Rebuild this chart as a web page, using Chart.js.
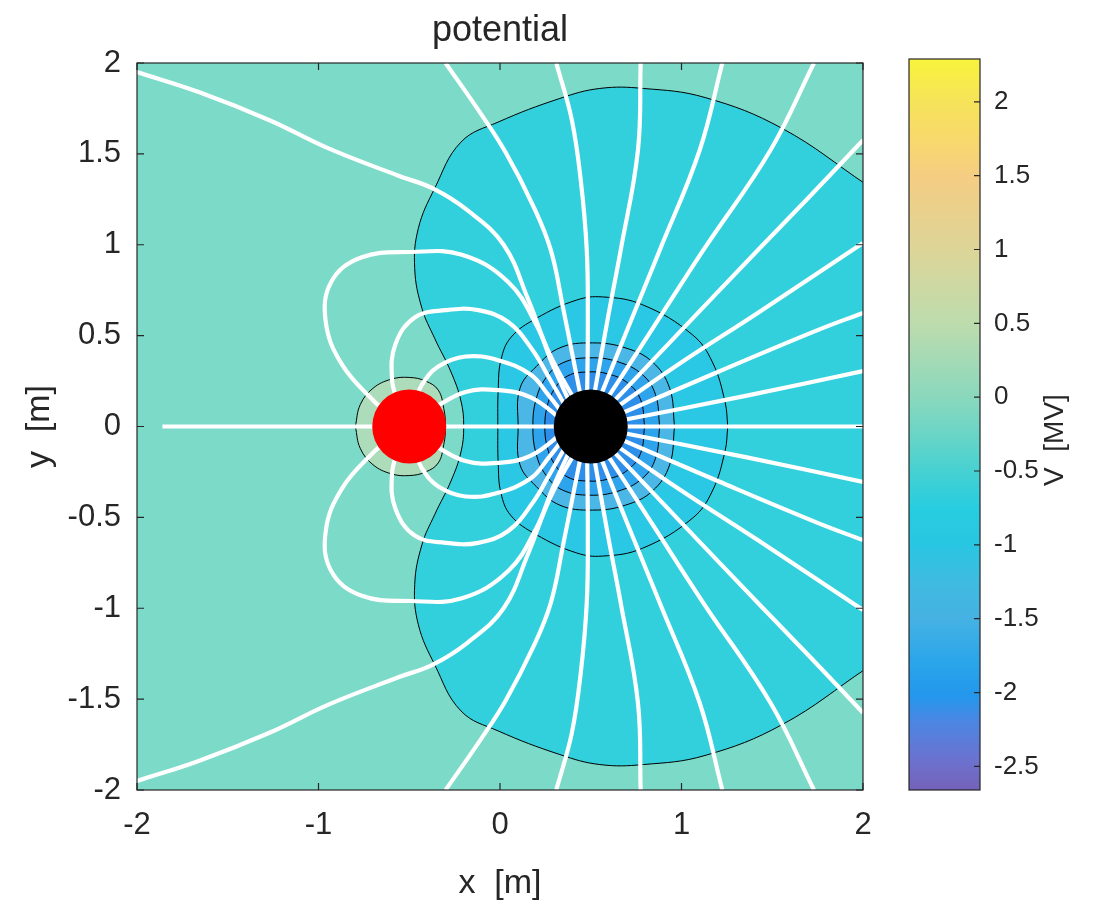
<!DOCTYPE html>
<html>
<head>
<meta charset="utf-8">
<script src="https://cdn.jsdelivr.net/npm/chart.js@4.4.1/dist/chart.umd.min.js"></script>
<style>
html,body{margin:0;padding:0;background:#ffffff;}
#wrap{position:relative;width:1103px;height:906px;overflow:hidden;}
#main{position:absolute;left:0;top:0;}
#cbar{position:absolute;left:866px;top:0;}
</style>
</head>
<body>
<div id="wrap">
<canvas id="main" width="900" height="906"></canvas>
<canvas id="cbar" width="237" height="906"></canvas>
</div>
<script>
// ---------------- data ----------------
const xTicks = [-2, -1, 0, 1, 2];
const yTicks = [-2, -1.5, -1, -0.5, 0, 0.5, 1, 1.5, 2];
const cbTicks = [-2.5, -2, -1.5, -1, -0.5, 0, 0.5, 1, 1.5, 2];
const cbRange = [-2.66, 2.29];

// charges (x, y) in metres
const positiveCharge = [[-0.5, 0]];
const negativeCharge = [[0.5, 0]];

// filled contour regions (closed outlines)
const contourOuter = [[2.02,1.33],[1.555,1.64],[1.13,1.81],[0.79,1.86],[0.55,1.86],[0.33,1.805],[-0.01,1.675],[-0.215,1.565],[-0.36,1.31],[-0.45,1.09],[-0.47,0.87],[-0.43,0.65],[-0.36,0.485],[-0.27,0.30],[-0.215,0.14],[-0.20,0],[-0.215,-0.14],[-0.27,-0.30],[-0.36,-0.485],[-0.43,-0.65],[-0.47,-0.87],[-0.45,-1.09],[-0.36,-1.31],[-0.215,-1.565],[-0.01,-1.675],[0.33,-1.805],[0.55,-1.86],[0.79,-1.86],[1.13,-1.81],[1.555,-1.64],[2.02,-1.33]];
const contour2 = [[1.255,0],[1.24,0.135],[1.17,0.355],[1.06,0.505],[0.785,0.67],[0.565,0.713],[0.42,0.695],[0.20,0.595],[0.06,0.49],[0.005,0.365],[-0.01,0.20],[-0.012,0],[-0.01,-0.20],[0.005,-0.365],[0.06,-0.49],[0.20,-0.595],[0.42,-0.695],[0.565,-0.713],[0.785,-0.67],[1.06,-0.505],[1.17,-0.355],[1.24,-0.135],[1.255,0]];
const contour3 = [[0.962,0],[0.935,0.21],[0.84,0.355],[0.69,0.433],[0.51,0.46],[0.33,0.433],[0.20,0.33],[0.11,0.21],[0.10,0],[0.11,-0.21],[0.20,-0.33],[0.33,-0.433],[0.51,-0.46],[0.69,-0.433],[0.84,-0.355],[0.935,-0.21],[0.962,0]];
const contour4 = [[0.88,0],[0.857,0.175],[0.785,0.285],[0.65,0.356],[0.495,0.378],[0.345,0.35],[0.253,0.268],[0.198,0.147],[0.181,0],[0.198,-0.147],[0.253,-0.268],[0.345,-0.35],[0.495,-0.378],[0.65,-0.356],[0.785,-0.285],[0.857,-0.175],[0.88,0]];
const contour5 = [[0.797,0],[0.775,0.147],[0.703,0.24],[0.593,0.29],[0.484,0.30],[0.374,0.279],[0.297,0.202],[0.258,0.103],[0.247,0],[0.258,-0.103],[0.297,-0.202],[0.374,-0.279],[0.484,-0.30],[0.593,-0.29],[0.703,-0.24],[0.775,-0.147],[0.797,0]];
const contourRed = [[-0.797,0],[-0.77,0.12],[-0.70,0.21],[-0.60,0.26],[-0.50,0.27],[-0.41,0.25],[-0.34,0.20],[-0.31,0.10],[-0.30,0],[-0.31,-0.10],[-0.34,-0.20],[-0.41,-0.25],[-0.50,-0.27],[-0.60,-0.26],[-0.70,-0.21],[-0.77,-0.12],[-0.797,0]];

// field lines
const axisLine = [[-1.86,0],[2.0,0]];
const lineA_up = [[-2.0,1.95],[-1.66,1.84],[-1.27,1.685],[-0.945,1.53],[-0.56,1.38],[-0.37,1.31],[-0.18,1.19],[0.02,1.0],[0.155,0.70],[0.275,0.395],[0.42,0.13]];
const lineA_dn = [[-2.0,-1.95],[-1.66,-1.84],[-1.27,-1.685],[-0.945,-1.53],[-0.56,-1.38],[-0.37,-1.31],[-0.18,-1.19],[0.02,-1.0],[0.155,-0.70],[0.275,-0.395],[0.42,-0.13]];
const lineB_up = [[-0.30,2.0],[-0.105,1.72],[0.03,1.51],[0.18,1.22],[0.28,0.97],[0.35,0.64],[0.40,0.39],[0.45,0.14]];
const lineB_dn = [[-0.30,-2.0],[-0.105,-1.72],[0.03,-1.51],[0.18,-1.22],[0.28,-0.97],[0.35,-0.64],[0.40,-0.39],[0.45,-0.14]];
const lineT1_up = [[0.31,2.0],[0.395,1.69],[0.445,1.355],[0.478,0.97],[0.484,0.59],[0.48,0.15]];
const lineT1_dn = [[0.31,-2.0],[0.395,-1.69],[0.445,-1.355],[0.478,-0.97],[0.484,-0.59],[0.48,-0.15]];
const lineT2_up = [[0.775,2.0],[0.76,1.52],[0.665,0.97],[0.593,0.59],[0.515,0.15]];
const lineT2_dn = [[0.775,-2.0],[0.76,-1.52],[0.665,-0.97],[0.593,-0.59],[0.515,-0.15]];
const lineT3_up = [[1.225,2.0],[1.10,1.52],[0.88,0.97],[0.70,0.53],[0.545,0.145]];
const lineT3_dn = [[1.225,-2.0],[1.10,-1.52],[0.88,-0.97],[0.70,-0.53],[0.545,-0.145]];
const lineT4_up = [[1.73,2.0],[1.49,1.52],[1.12,0.97],[0.835,0.53],[0.575,0.13]];
const lineT4_dn = [[1.73,-2.0],[1.49,-1.52],[1.12,-0.97],[0.835,-0.53],[0.575,-0.13]];
const lineR1_up = [[2.0,1.575],[1.71,1.27],[1.42,0.97],[1.0,0.53],[0.60,0.11]];
const lineR1_dn = [[2.0,-1.575],[1.71,-1.27],[1.42,-0.97],[1.0,-0.53],[0.60,-0.11]];
const lineR2_up = [[2.0,1.01],[1.42,0.625],[0.98,0.34],[0.62,0.09]];
const lineR2_dn = [[2.0,-1.01],[1.42,-0.625],[0.98,-0.34],[0.62,-0.09]];
const lineR3_up = [[2.0,0.625],[1.75,0.53],[1.20,0.30],[0.64,0.06]];
const lineR3_dn = [[2.0,-0.625],[1.75,-0.53],[1.20,-0.30],[0.64,-0.06]];
const lineR4_up = [[2.0,0.305],[1.36,0.17],[0.65,0.03]];
const lineR4_dn = [[2.0,-0.305],[1.36,-0.17],[0.65,-0.03]];
const loop4_up = [[-0.62,0.08],[-0.69,0.135],[-0.87,0.34],[-0.96,0.575],[-0.93,0.795],[-0.765,0.93],[-0.49,0.96],[-0.21,0.945],[0.045,0.795],[0.20,0.56],[0.29,0.34],[0.39,0.12]];
const loop4_dn = [[-0.62,-0.08],[-0.69,-0.135],[-0.87,-0.34],[-0.96,-0.575],[-0.93,-0.795],[-0.765,-0.93],[-0.49,-0.96],[-0.21,-0.945],[0.045,-0.795],[0.20,-0.56],[0.29,-0.34],[0.39,-0.12]];
const loop3_up = [[-0.56,0.12],[-0.595,0.26],[-0.577,0.45],[-0.47,0.60],[-0.30,0.64],[-0.12,0.64],[0.045,0.575],[0.18,0.42],[0.275,0.26],[0.37,0.095]];
const loop3_dn = [[-0.56,-0.12],[-0.595,-0.26],[-0.577,-0.45],[-0.47,-0.60],[-0.30,-0.64],[-0.12,-0.64],[0.045,-0.575],[0.18,-0.42],[0.275,-0.26],[0.37,-0.095]];
const loop2_up = [[-0.47,0.13],[-0.43,0.23],[-0.34,0.33],[-0.19,0.385],[-0.01,0.365],[0.17,0.285],[0.265,0.175],[0.355,0.06]];
const loop2_dn = [[-0.47,-0.13],[-0.43,-0.23],[-0.34,-0.33],[-0.19,-0.385],[-0.01,-0.365],[0.17,-0.285],[0.265,-0.175],[0.355,-0.06]];
const loop1_up = [[-0.37,0.10],[-0.19,0.19],[-0.01,0.20],[0.17,0.16],[0.35,0.03]];
const loop1_dn = [[-0.37,-0.10],[-0.19,-0.19],[-0.01,-0.20],[0.17,-0.16],[0.35,-0.03]];

// colour bar gradient stops (value, colour)
const cbStopValues = [-2.66,-2.45,-2.2,-2.02,-1.8,-1.5,-1.25,-1.0,-0.75,-0.5,-0.25,0,0.5,1.0,1.5,1.75,2.0,2.29];
const cbStopColors = ['#7562b9','#6b72cf','#4c86e3','#2397ec','#2aa5ea','#45b2e3','#3fbbe0','#29c6e2','#27cde0','#47d1d2','#6ad5c6','#8ad8bd','#bddcad','#ddd598','#f5cd82','#f8d96c','#f6e35a','#f8f43c'];

// ---------------- styles ----------------
const FONT = "'Liberation Sans',Arial,Helvetica,sans-serif";
const TXT = '#262626';
const BG = '#7bdac8';

const pts = a => a.map(([x, y]) => ({x, y}));
function region(arr, color, order) {
  return {data: pts(arr), fill: 'shape', backgroundColor: color, borderColor: '#000000',
          borderWidth: 1, pointRadius: 0, tension: 0.4, order};
}
function fieldLine(arr) {
  return {data: pts(arr), fill: false, borderColor: '#ffffff', borderWidth: 4.2,
          pointRadius: 0, tension: 0.4, order: 10};
}
const fieldLines = [axisLine, lineA_up, lineA_dn, lineB_up, lineB_dn, lineT1_up, lineT1_dn,
  lineT2_up, lineT2_dn, lineT3_up, lineT3_dn, lineT4_up, lineT4_dn, lineR1_up, lineR1_dn,
  lineR2_up, lineR2_dn, lineR3_up, lineR3_dn, lineR4_up, lineR4_dn, loop4_up, loop4_dn,
  loop3_up, loop3_dn, loop2_up, loop2_dn, loop1_up, loop1_dn];

const datasets = [
  region(contourOuter, '#32d0dc', 100),
  region(contour2, '#2ac8e4', 99),
  region(contour3, '#4ab7e6', 98),
  region(contour4, '#2ea4ec', 97),
  region(contour5, '#2d8fea', 96),
  region(contourRed, '#acdcba', 95),
  ...fieldLines.map(fieldLine),
  {data: pts(positiveCharge), showLine: false, pointRadius: 37, pointBackgroundColor: '#ff0000', pointBorderWidth: 0, order: 1},
  {data: pts(negativeCharge), showLine: false, pointRadius: 37, pointBackgroundColor: '#000000', pointBorderWidth: 0, order: 0}
];

const frame = {
  id: 'frame',
  beforeDatasetsDraw(chart) {
    const {ctx, chartArea: a} = chart;
    ctx.save(); ctx.fillStyle = BG; ctx.fillRect(a.left, a.top, a.width, a.height); ctx.restore();
  },
  afterDraw(chart) {
    const {ctx, chartArea: a, scales: {x, y}} = chart;
    const L = 7;
    ctx.save();
    ctx.strokeStyle = TXT; ctx.lineWidth = 1.2;
    ctx.beginPath();
    xTicks.forEach(v => { const p = x.getPixelForValue(v);
      ctx.moveTo(p, a.bottom); ctx.lineTo(p, a.bottom - L); ctx.moveTo(p, a.top); ctx.lineTo(p, a.top + L); });
    yTicks.forEach(v => { const p = y.getPixelForValue(v);
      ctx.moveTo(a.left, p); ctx.lineTo(a.left + L, p); ctx.moveTo(a.right, p); ctx.lineTo(a.right - L, p); });
    ctx.stroke();
    ctx.strokeRect(a.left, a.top, a.width, a.height);
    ctx.restore();
  }
};

const fmt = v => String(v);
const tickFont = {family: FONT, size: 31};
const labelFont = {family: FONT, size: 34};
const titleFont = {family: FONT, size: 36};
const cbTickFont = {family: FONT, size: 26};

new Chart(document.getElementById('main'), {
  type: 'line',
  data: {datasets},
  options: {
    responsive: false, animation: false, events: [],
    layout: {padding: 0},
    plugins: {legend: {display: false}, tooltip: {enabled: false}},
    scales: {
      x: {type: 'linear', position: 'bottom', min: -2, max: 2,
          afterBuildTicks: s => { s.ticks = xTicks.map(v => ({value: v})); },
          afterFit: s => { s.height = 116; },
          grid: {display: false, drawTicks: false}, border: {display: false},
          ticks: {padding: 17, font: tickFont, color: TXT, callback: fmt, maxRotation: 0},
          title: {display: true, text: 'x  [m]', font: labelFont, color: TXT, padding: {top: 0, bottom: 2}}},
      x2: {type: 'linear', position: 'top', min: -2, max: 2,
          afterFit: s => { s.height = 63; },
          ticks: {display: false}, grid: {display: false, drawTicks: false}, border: {display: false},
          title: {display: true, text: 'potential', font: titleFont, color: TXT, padding: {top: 9, bottom: 0}}},
      y: {type: 'linear', position: 'left', min: -2, max: 2,
          afterBuildTicks: s => { s.ticks = yTicks.map(v => ({value: v})); },
          afterFit: s => { s.width = 137; },
          grid: {display: false, drawTicks: false}, border: {display: false},
          ticks: {padding: 16, font: tickFont, color: TXT, callback: fmt},
          title: {display: true, text: 'y  [m]', font: labelFont, color: TXT, padding: {top: 19, bottom: 0}}},
      y2: {type: 'linear', position: 'right', min: -2, max: 2,
          afterFit: s => { s.width = 34; },
          ticks: {display: false}, grid: {display: false, drawTicks: false}, border: {display: false}}
    }
  },
  plugins: [frame]
});

// ---------------- colour bar ----------------
const cbFrame = {
  id: 'cbFrame',
  afterDraw(chart) {
    const {ctx, chartArea: a, scales: {y}} = chart;
    ctx.save();
    ctx.strokeStyle = TXT; ctx.lineWidth = 1.2;
    ctx.beginPath();
    cbTicks.forEach(v => { const p = y.getPixelForValue(v); ctx.moveTo(a.right, p); ctx.lineTo(a.right - 6, p); });
    ctx.stroke();
    ctx.strokeRect(a.left, a.top, a.width, a.height);
    ctx.fillStyle = TXT;
    ctx.font = `28px ${FONT}`;
    ctx.textAlign = 'center'; ctx.textBaseline = 'middle';
    ctx.translate(189, 440); ctx.rotate(-Math.PI / 2);
    ctx.fillText('V  [MV]', 0, 0);
    ctx.restore();
  }
};

new Chart(document.getElementById('cbar'), {
  type: 'bar',
  data: {labels: ['V'], datasets: [{
    data: [cbRange],
    backgroundColor: c => {
      const ch = c.chart; const ys = ch.scales.y;
      if (!ch.chartArea || !ys) return '#8ad8bd';
      const g = ch.ctx.createLinearGradient(0, ys.getPixelForValue(cbRange[0]), 0, ys.getPixelForValue(cbRange[1]));
      cbStopValues.forEach((v, i) => g.addColorStop((v - cbRange[0]) / (cbRange[1] - cbRange[0]), cbStopColors[i]));
      return g;
    },
    borderWidth: 0, barPercentage: 1, categoryPercentage: 1
  }]},
  options: {
    responsive: false, animation: false, events: [],
    layout: {padding: {left: 43, top: 59, bottom: 116, right: 0}},
    plugins: {legend: {display: false}, tooltip: {enabled: false}},
    scales: {
      x: {display: false},
      y: {position: 'right', min: cbRange[0], max: cbRange[1],
          afterBuildTicks: s => { s.ticks = cbTicks.map(v => ({value: v})); },
          afterFit: s => { s.width = 123; },
          grid: {display: false, drawTicks: false}, border: {display: false},
          ticks: {padding: 14, font: cbTickFont, color: TXT, callback: fmt}}
    }
  },
  plugins: [cbFrame]
});
</script>
</body>
</html>
